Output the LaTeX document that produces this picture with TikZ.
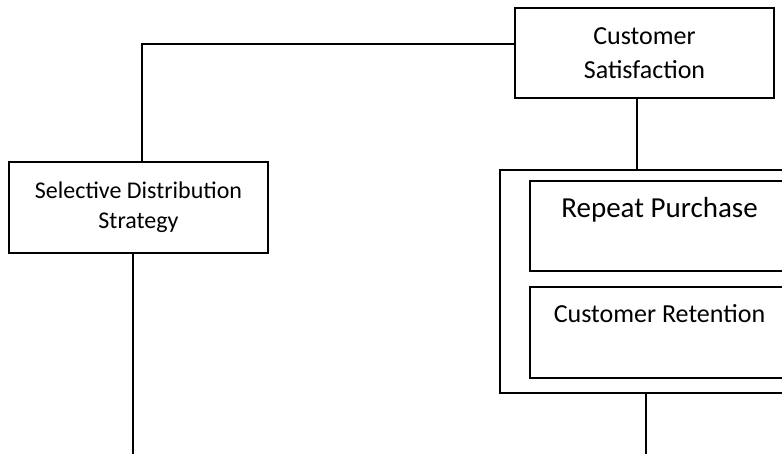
\documentclass[tikz,border=0pt]{standalone}
\usepackage{fontspec}
\setmainfont{Carlito}
\usetikzlibrary{positioning}

\tikzset{
  box/.style={draw, line width=1.2pt, rectangle, align=center, inner sep=0pt},
  link/.style={draw, line width=1.2pt},
}

\begin{document}
\begin{tikzpicture}[x=1pt, y=-1pt]
    \useasboundingbox (0,0) rectangle (782,454);
    \clip (0,0) rectangle (782,454);

    % draw top and left boxes
    \node[box, minimum width=259pt, minimum height=90pt, font=\fontsize{26}{34}\selectfont] (sat) at (644.5,53) {Customer\\Satisfaction};
    \node[box, minimum width=259pt, minimum height=91pt, font=\fontsize{24}{30}\selectfont] (sds) at (138.5,207.5) {Selective Distribution\\Strategy};

    % draw outer box with its two inner boxes
    \node[box, minimum width=305pt, minimum height=223pt] (outer) at (652.5,281.5) {};
    \node[box, minimum width=259pt, minimum height=90pt,
      label={[anchor=base, yshift=-37pt, font=\fontsize{29}{35}\selectfont]north:Repeat Purchase}] (rep) at (659.5,226) {};
    \node[box, minimum width=259pt, minimum height=91pt,
      label={[anchor=base, yshift=-36pt, font=\fontsize{26}{32}\selectfont]north:Customer Retention}] (ret) at (659.5,332.5) {};

    % draw connectors
    \draw[link] ([yshift=9pt]sat.west) -| ([xshift=3.5pt]sds.north);
    \draw[link] ([xshift=-7.5pt]sat.south) -- ([xshift=-15.5pt]outer.north);

    % draw loose ends
    \coordinate (sdsend) at (133,454);
    \coordinate (outend) at (646,454);
    \draw[link] (sds.south -| sdsend) -- (sdsend);
    \draw[link] (outer.south -| outend) -- (outend);
\end{tikzpicture}
\end{document}
